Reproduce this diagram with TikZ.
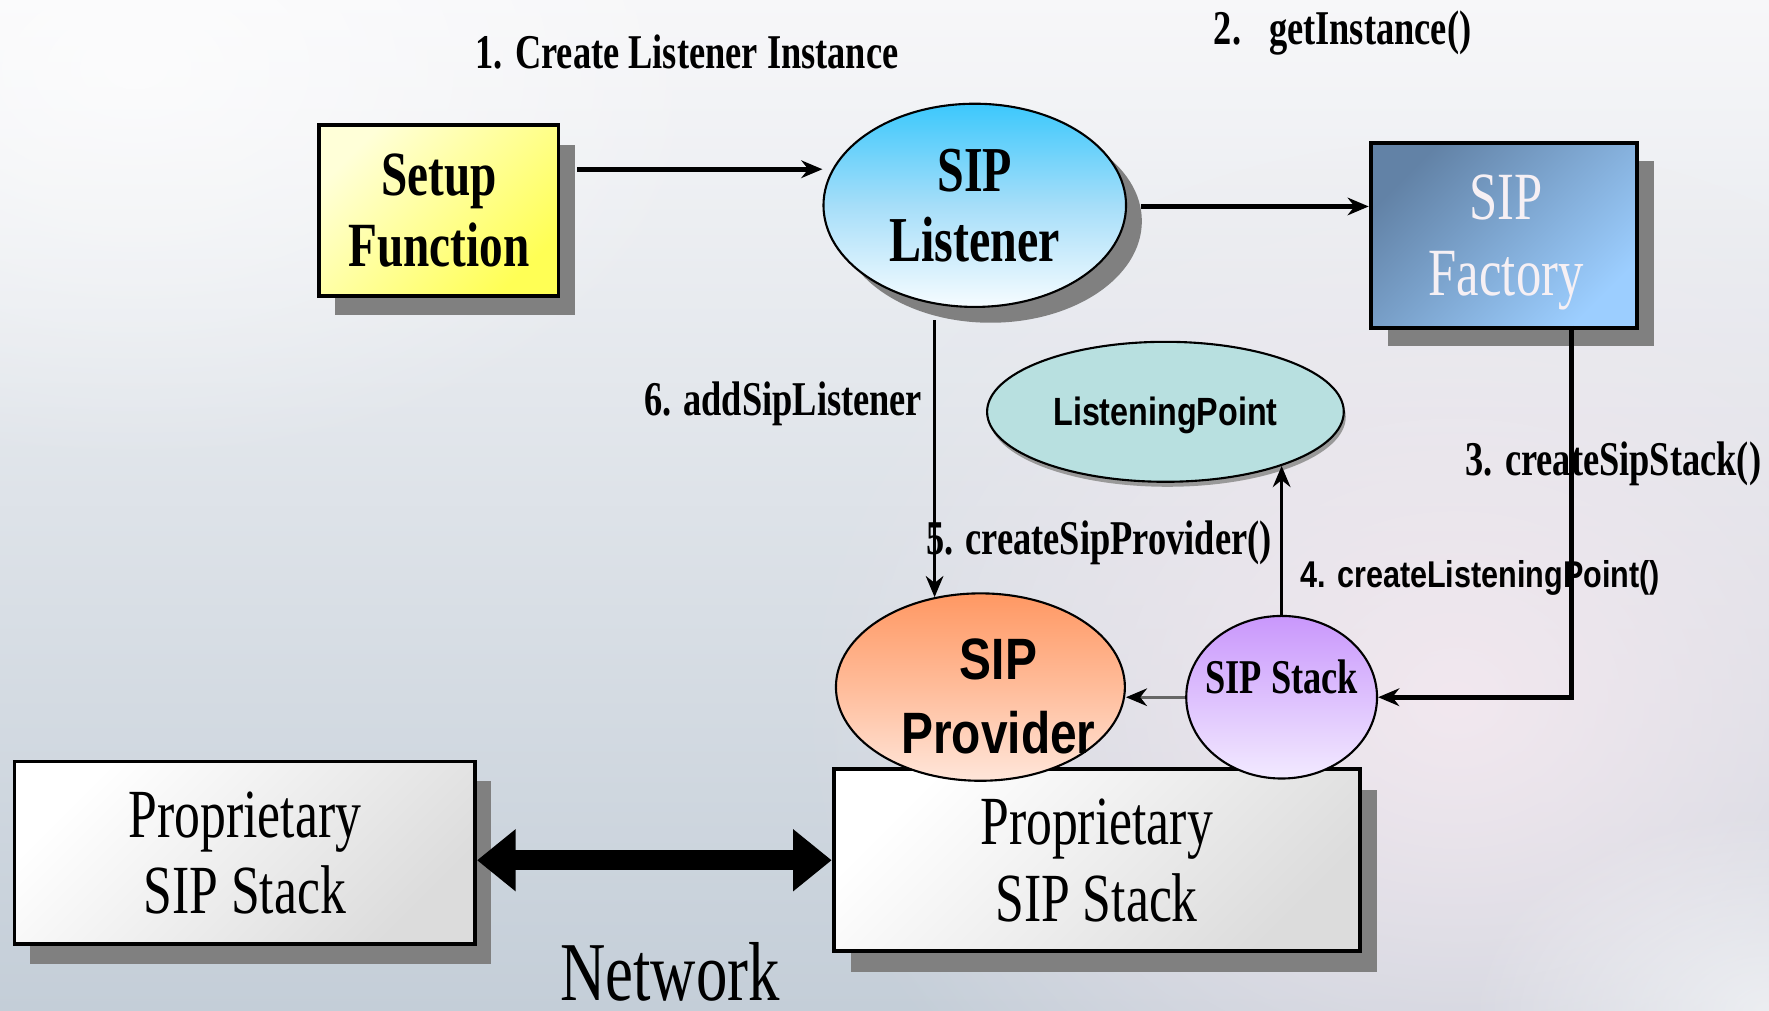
\documentclass[tikz,border=0pt]{standalone}
\usepackage{fontspec}
\setmainfont{Liberation Serif}
\newfontfamily\cserif[FakeStretch=0.75]{Liberation Serif}
\newfontfamily\csans[FakeStretch=0.82]{Liberation Sans}
\usetikzlibrary{arrows.meta,shapes.geometric,shadows,fadings,calc}

\definecolor{bgtop}{HTML}{F7F7F9}
\definecolor{bgbot}{HTML}{C4CED8}
\definecolor{glowpink}{HTML}{F2E8EF}
\definecolor{shadowgray}{HTML}{808080}
\definecolor{setupA}{HTML}{FFFFD8}
\definecolor{setupB}{HTML}{FFFF55}
\definecolor{listA}{HTML}{3CC8FC}
\definecolor{listM}{HTML}{A6DEF9}
\definecolor{listB}{HTML}{F6FCFF}
\definecolor{factA}{HTML}{6282A6}
\definecolor{factB}{HTML}{9CCEFF}
\definecolor{factText}{HTML}{F6F0F4}
\definecolor{lpFill}{HTML}{B8E0E0}
\definecolor{provA}{HTML}{FF9863}
\definecolor{provM}{HTML}{FFBC9A}
\definecolor{provB}{HTML}{FFE6DA}
\definecolor{stackA}{HTML}{C997FC}
\definecolor{stackB}{HTML}{F2EAFF}
\definecolor{propA}{HTML}{FFFFFF}
\definecolor{propB}{HTML}{DCDCDC}

\tikzfading[name=glowfade, inner color=transparent!0, outer color=transparent!100]

\begin{document}
\begin{tikzpicture}[x=0.011282cm,y=-0.011282cm,
  box/.style={draw=black, line width=1.1pt, rectangle, inner sep=0pt},
  oval/.style={draw=black, line width=0.6pt, ellipse, inner sep=0pt},
  rshadow/.style={general shadow={fill=shadowgray, shadow xshift=0.16cm, shadow yshift=-0.195cm}},
  serifb/.style 2 args={font=\cserif\bfseries\fontsize{#1}{#2}\selectfont},
  lbl/.style={font=\cserif\bfseries\fontsize{13.8}{15}\selectfont, inner sep=0pt},
  arr/.style={line width=1.3pt, -{Stealth[length=6pt,width=5pt]}},
  arrthin/.style={line width=0.9pt, -{Stealth[length=6pt,width=5pt]}},
  arrgray/.style={draw=black!60, line width=0.8pt, -{Stealth[length=6pt,width=5pt,fill=black,color=black]}},
  netarrow/.style={line width=5.8pt, {Triangle[length=11pt,width=17pt]}-{Triangle[length=11pt,width=17pt]}}
]
\useasboundingbox (0,0) rectangle (1568,896);
\clip (0,0) rectangle (1568,896);
% background
\shade[top color=bgtop, bottom color=bgbot] (0,0) rectangle (1568,896);
\fill[glowpink, path fading=glowfade] (1290,620) ellipse [x radius=6.6cm, y radius=5.6cm];
\fill[white, opacity=0.6, path fading=glowfade] (1568,896) ellipse [x radius=3cm, y radius=2cm];
\fill[white, opacity=0.7, path fading=glowfade] (120,60) ellipse [x radius=6cm, y radius=4cm];

% step labels (drawn first; connectors pass over them)
\node[lbl] (t1) at (609,46) {1. Create Listener Instance};
\node[lbl] (t2) at (1190,29) {2.\hspace{0.28cm}getInstance()};
\node[lbl, anchor=east] (t6) at (818,358) {6. addSipListener};
\node[lbl] (t5) at (974,481) {5. createSipProvider()};
\node[lbl] (t3) at (1430,411) {3. createSipStack()};
\node[font=\csans\bfseries\fontsize{10.6}{12}\selectfont, inner sep=0pt] (t4) at (1312,512) {4. createListeningPoint()};

% boxes
\node[box, rshadow, top color=setupA, bottom color=setupB, shading angle=45,
      minimum width=2.392cm, minimum height=1.704cm, align=center,
      serifb={17.9}{20}] (setup) at (389,186.5) {Setup\\Function};
\node[box, general shadow={fill=shadowgray, shadow xshift=0.17cm, shadow yshift=-0.18cm},
      top color=factA, bottom color=factB, shading angle=45,
      minimum width=2.663cm, minimum height=1.850cm] (factory) at (1333,209) {};
\node[align=center, text=factText, inner sep=0pt,
      font=\cserif\fontsize{19.2}{21.5}\selectfont] (factoryText) at ($(factory)+(2,6)$) {SIP\\Factory};
\node[box, general shadow={fill=shadowgray, shadow xshift=0.158cm, shadow yshift=-0.2cm},
      top color=propA, bottom color=propB, shading angle=45,
      minimum width=4.603cm, minimum height=1.828cm, align=center,
      font=\cserif\fontsize{19.6}{21.8}\selectfont] (propL) at (217,756) {Proprietary\\SIP Stack};
\node[box, general shadow={fill=shadowgray, shadow xshift=0.17cm, shadow yshift=-0.21cm},
      top color=propA, bottom color=propB, shading angle=45,
      minimum width=5.257cm, minimum height=1.816cm, align=center,
      font=\cserif\fontsize{19.6}{21.8}\selectfont] (propR) at (972,762.5) {Proprietary\\SIP Stack};

% ovals
\node[oval, general shadow={fill=shadowgray, shadow xshift=0.158cm, shadow yshift=-0.158cm},
      top color=listA, bottom color=listB, middle color=listM,
      minimum width=3.024cm, minimum height=2.031cm, align=center,
      serifb={18.2}{20}] (listener) at (864,182) {SIP\\Listener};
\node[oval, general shadow={fill=black!40, shadow xshift=0.02cm, shadow yshift=-0.05cm},
      fill=lpFill, minimum width=3.565cm, minimum height=1.399cm] (lp) at (1033,365) {};
\node[font=\csans\bfseries\fontsize{11.2}{13}\selectfont, inner sep=0pt] (lpText) at ($(lp)+(0,3)$) {ListeningPoint};
\node[oval, top color=provA, bottom color=provB, middle color=provM,
      minimum width=2.888cm, minimum height=1.873cm] (provider) at (869,609) {};
\node[align=center, inner sep=0pt,
      font=\csans\bfseries\fontsize{16.6}{21}\selectfont] (providerText) at ($(provider)+(16,8)$) {SIP\\Provider};
\node[oval, top color=stackA, bottom color=stackB,
      minimum width=1.907cm, minimum height=1.625cm] (stack) at (1136,618) {};
\node[serifb={13.8}{15}, inner sep=0pt] (stackText) at ($(stack)+(0,-18)$) {SIP Stack};

% network label
\node[font=\cserif\fontsize{23.8}{26}\selectfont, inner sep=0pt] (net) at (594,861) {Network};

% connectors
\coordinate (s1) at ($(setup.east)+(15,-36.5)$);
\draw[arr] (s1) -- (s1 -| listener.west);
\draw[arr] ($(listener.east)+(12,1)$) -- ($(factory.west |- listener.east)+(0,1)$);
\draw[arrthin] ($(listener.south -| provider.117.6)+(0,11)$) -- (provider.117.6);
\draw[arr] ($(factory.south)+(60,-4)$) |- (stack.east);
\draw[arrthin] (stack.north) -- (stack.north |- lp.335.5);
\draw[arrgray] (stack.west) -- (stack.west -| provider.east);
\draw[netarrow] (propL.east |- propR.west) -- (propR.west);
\end{tikzpicture}
\end{document}
